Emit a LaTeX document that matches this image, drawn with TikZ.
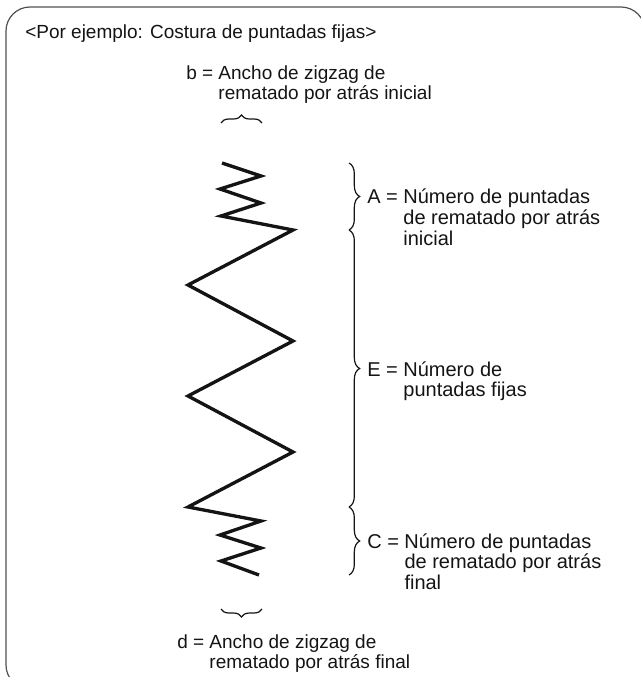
\documentclass[tikz,border=0pt]{standalone}
\usepackage{fontspec}
\setmainfont{Liberation Sans}
\usepackage{xcolor}
\usepackage{tikz}
\usetikzlibrary{decorations.pathreplacing,positioning,calc}
\definecolor{framegray}{RGB}{80,80,80}
\definecolor{inkblack}{RGB}{20,20,20}
\newcommand{\eqlbl}[2]{#1 = \begin{tabular}[t]{@{}l@{}}#2\end{tabular}}

\begin{document}
\begin{tikzpicture}[
  x = 0.75pt, y = -0.75pt,
  font = \fontsize{14.25}{15}\selectfont,
  frame/.style = {draw=framegray, line width=0.9pt, rounded corners=18pt},
  zig/.style = {line width=2.5pt, line join=miter, inkblack},
  brc/.style = {decorate, decoration={brace, amplitude=#1}, line width=0.9pt, inkblack},
  brc/.default = 8pt,
  lbl/.style = {inner sep=0pt, anchor=base west, text=inkblack},
  side/.style = {lbl, font=\fontsize{15}{15}\selectfont}
]
  \useasboundingbox (0,0) rectangle (641,677);
  \draw[frame] (6,7) rectangle (645,689);

  % stitch
  \draw[zig] (222,163) -- (261,176) -- (220,189) -- (261,203) -- (221,216)
    -- (293,230) -- (188,285) -- (293,341) -- (188,396) -- (293,452) -- (188,507)
    -- (261,521) -- (220,535) -- (261,548) -- (221,561) -- (259,575);

  \node[lbl] (title) at (25,39) {<Por ejemplo: Costura de puntadas fijas>};
  \node[lbl] (b) at (186,80) {\eqlbl{b}{Ancho de zigzag de\\rematado por atrás inicial}};
  \node[side] (A) at (367,204) {\eqlbl{A}{Número de puntadas\\de rematado por atrás\\inicial}};
  \node[side] (E) at (367,376) {\eqlbl{E}{Número de\\puntadas fijas}};
  \node[side] (C) at (367,548) {\eqlbl{C}{Número de puntadas\\de rematado por atrás\\final}};
  \node[lbl] (d) at (177,648) {\eqlbl{d}{Ancho de zigzag de\\rematado por atrás final}};

  \coordinate (bL) at (221,123);
  \coordinate (bR) at (262,123);
  \coordinate (dL) at (221,609);
  \coordinate (dR) at (262,609);
  \coordinate (aT) at (349,163);
  \coordinate (aB) at (349,230);
  \coordinate (cT) at (349,507);
  \coordinate (cB) at (349,575);

  \draw[brc=6pt] (bL) -- (bR);
  \draw[brc=6pt] (dR) -- (dL);
  \draw[brc] (aT) -- (aB);
  \draw[brc] (aB) -- (cT);
  \draw[brc] (cT) -- (cB);
\end{tikzpicture}
\end{document}
